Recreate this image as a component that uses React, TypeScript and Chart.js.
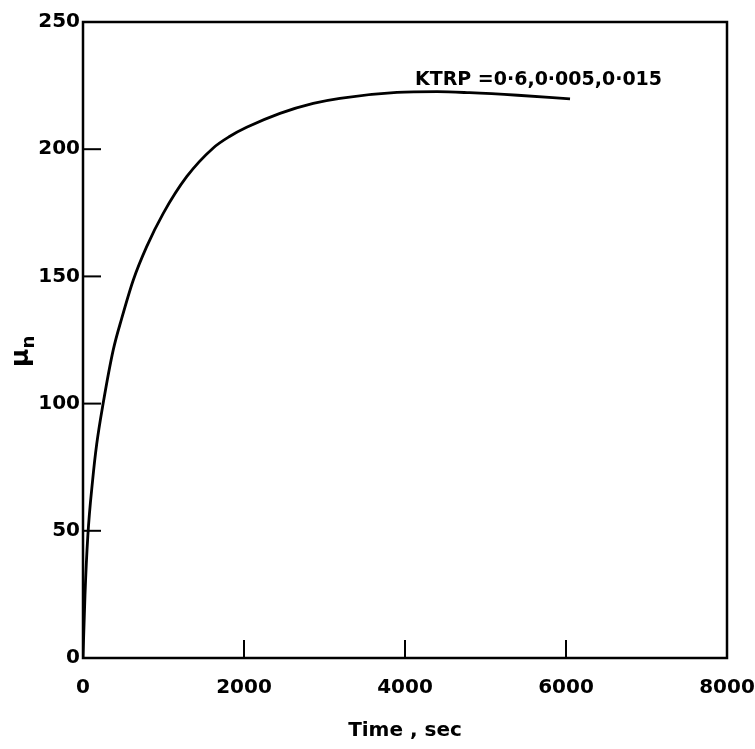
import React, { useEffect, useRef } from "react";
import { Chart, registerables } from "chart.js";

Chart.register(...registerables);

const timeSec = [0, 25, 60, 120, 170, 250, 375, 481, 625, 791, 997, 1288, 1618, 1820, 2033, 2447, 2860, 3192, 3900, 4400, 4800, 5400, 6050];
const muN = [0, 25, 48, 70, 84, 100, 121, 133.5, 148.6, 161.7, 174.8, 189.2, 200.5, 205, 208.6, 214.1, 218, 220, 222.3, 222.6, 222.2, 221.2, 219.8];

const xTicks = [0, 2000, 4000, 6000, 8000];
const yTicks = [0, 50, 100, 150, 200, 250];
const xMarks = [2000, 4000, 6000];
const yMarks = [50, 100, 150, 200];

const annotationText = "KTRP =0·6,0·005,0·015";
const xTitle = "Time , sec";
const yTitleMain = "μ";
const yTitleSub = "n";

const FONT = "DejaVu Sans";

const framePlugin = {
  id: "frame",
  afterDraw(chart: any) {
    const { ctx, chartArea } = chart;
    const xs = chart.scales.x;
    const ys = chart.scales.y;
    ctx.save();
    ctx.strokeStyle = "#000";
    ctx.lineWidth = 2.5;
    ctx.strokeRect(chartArea.left, chartArea.top, chartArea.right - chartArea.left, chartArea.bottom - chartArea.top);
    ctx.lineWidth = 2;
    const tl = 18;
    xMarks.forEach((v) => {
      const px = xs.getPixelForValue(v);
      ctx.beginPath();
      ctx.moveTo(px, chartArea.bottom);
      ctx.lineTo(px, chartArea.bottom - tl);
      ctx.stroke();
    });
    yMarks.forEach((v) => {
      const py = ys.getPixelForValue(v);
      ctx.beginPath();
      ctx.moveTo(chartArea.left, py);
      ctx.lineTo(chartArea.left + tl, py);
      ctx.stroke();
    });
    ctx.fillStyle = "#000";
    // annotation
    ctx.font = `bold 19px "${FONT}"`;
    ctx.textAlign = "left";
    ctx.textBaseline = "middle";
    ctx.fillText(annotationText, xs.getPixelForValue(4124), ys.getPixelForValue(227.2));
    // x title
    ctx.font = `bold 20px "${FONT}"`;
    ctx.textAlign = "center";
    ctx.fillText(xTitle, 405, 731);
    // y title
    ctx.translate(22, 357);
    ctx.rotate(-Math.PI / 2);
    ctx.font = `bold 25px "${FONT}"`;
    ctx.textAlign = "left";
    ctx.textBaseline = "alphabetic";
    ctx.fillText(yTitleMain, -10, 6);
    const w = ctx.measureText(yTitleMain).width;
    ctx.font = `bold 18px "${FONT}"`;
    ctx.fillText(yTitleSub, -10 + w, 12);
    ctx.restore();
  },
};

export default function App() {
  const ref = useRef<HTMLCanvasElement>(null);
  useEffect(() => {
    if (!ref.current) return;
    const chart = new Chart(ref.current, {
      type: "line",
      data: {
        datasets: [
          {
            data: timeSec.map((t, i) => ({ x: t, y: muN[i] })),
            borderColor: "#000",
            borderWidth: 2.8,
            pointRadius: 0,
            cubicInterpolationMode: "monotone",
            fill: false,
          },
        ],
      },
      options: {
        animation: false,
        responsive: false,
        maintainAspectRatio: false,
        layout: { padding: { left: 0, top: 22, right: 28, bottom: 0 } },
        plugins: { legend: { display: false }, tooltip: { enabled: false } },
        scales: {
          x: {
            type: "linear",
            min: 0,
            max: 8000,
            afterFit: (s: any) => { s.height = 91; s.paddingLeft = 0; s.paddingRight = 0; },
            afterBuildTicks: (s: any) => { s.ticks = xTicks.map((v) => ({ value: v })); },
            grid: { display: false, drawTicks: false },
            border: { display: false },
            ticks: {
              color: "#000",
              padding: 18,
              callback: (v: any) => String(v),
              font: { family: FONT, size: 20, weight: "bold" },
            },
          },
          y: {
            type: "linear",
            min: 0,
            max: 250,
            afterFit: (s: any) => { s.width = 83; s.paddingTop = 0; s.paddingBottom = 0; },
            afterBuildTicks: (s: any) => { s.ticks = yTicks.map((v) => ({ value: v })); },
            grid: { display: false, drawTicks: false },
            border: { display: false },
            ticks: {
              color: "#000",
              padding: 3,
              callback: (v: any) => String(v),
              font: { family: FONT, size: 20, weight: "bold" },
            },
          },
        },
      },
      plugins: [framePlugin],
    });
    return () => chart.destroy();
  }, []);
  return (
    <div style={{ position: "fixed", left: 0, top: 0, width: 755, height: 749, background: "#fff" }}>
      <canvas ref={ref} width={755} height={749} style={{ width: 755, height: 749 }} />
    </div>
  );
}
